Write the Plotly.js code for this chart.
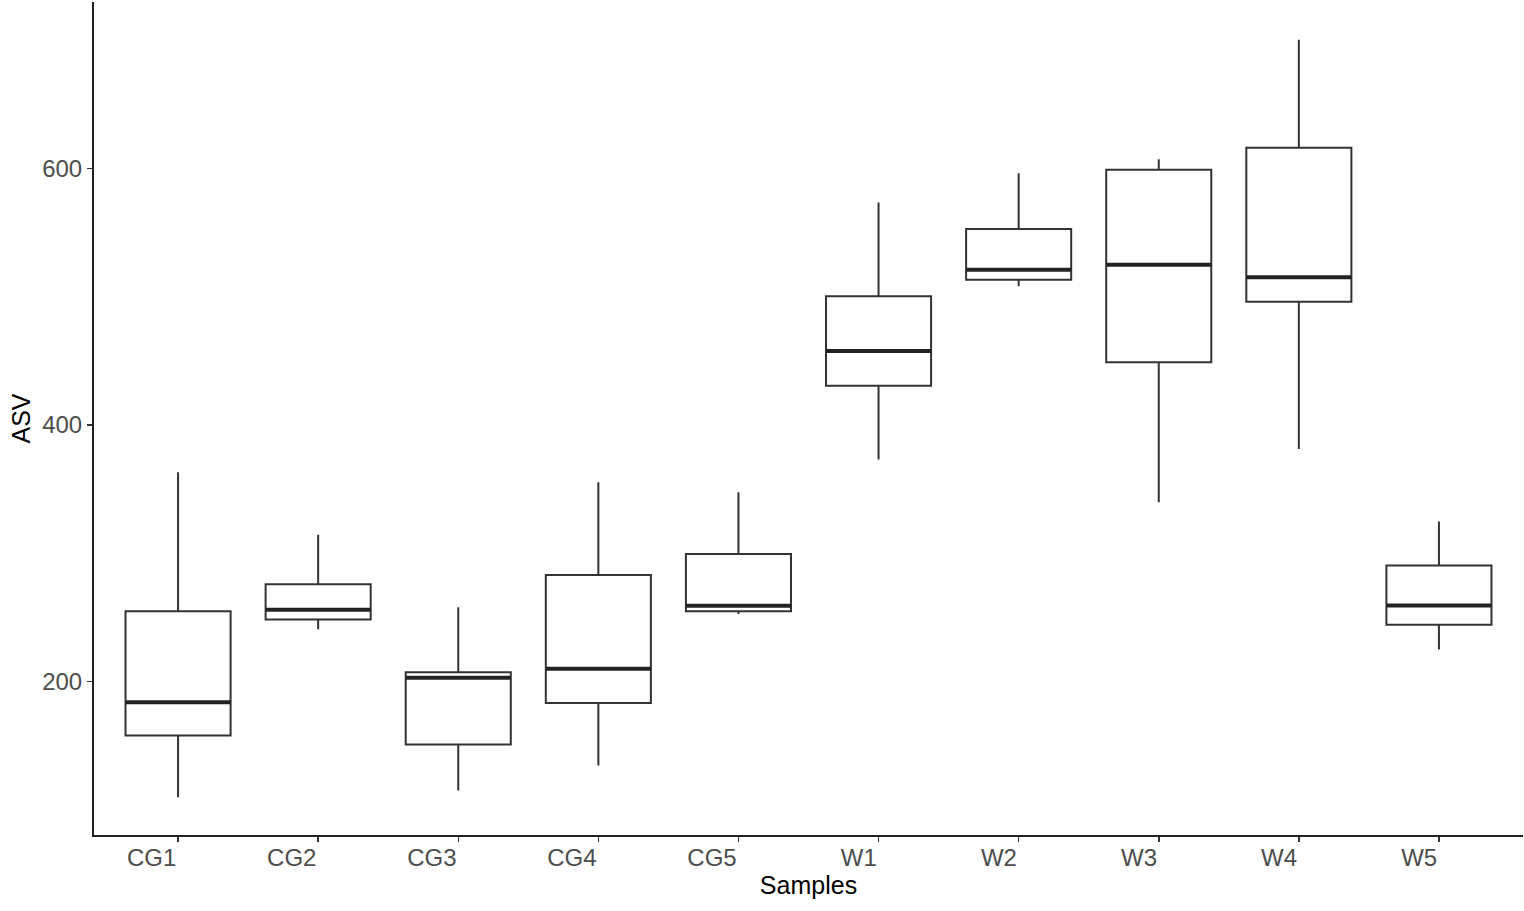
<!DOCTYPE html>
<html>
<head>
<meta charset="utf-8">
<script src="https://cdn.plot.ly/plotly-3.0.1.min.js"></script>
<style>
  html, body { margin: 0; padding: 0; background: #ffffff; }
  #chart { width: 1524px; height: 911px; }
</style>
</head>
<body>
<div id="chart"></div>
<script>
// ASV counts per sample: five-number summaries
const samples = ["CG1", "CG2", "CG3", "CG4", "CG5", "W1", "W2", "W3", "W4", "W5"];
const lowerWhisker = [109.9, 240.8, 115.1, 134.6, 252.7, 373.0, 508.1, 339.8, 381.3, 224.9];
const q1 = [157.9, 248.3, 150.9, 183.2, 254.8, 430.6, 513.2, 448.8, 496.1, 244.2];
const medians = [183.9, 255.9, 202.9, 209.9, 259.0, 457.7, 521.0, 524.9, 515.1, 259.2];
const q3 = [254.8, 275.9, 207.3, 283.1, 299.5, 500.3, 552.7, 598.9, 616.0, 290.4];
const upperWhisker = [363.1, 314.5, 258.0, 355.4, 347.6, 573.5, 596.3, 607.2, 700.2, 324.7];
const yTicks = [200, 400, 600];

const positions = samples.map((_, i) => i);
const boxWidth = 0.75;
const lineColor = "#333333";

const boxTrace = {
  type: "box",
  x: positions,
  lowerfence: lowerWhisker,
  q1: q1,
  median: medians,
  q3: q3,
  upperfence: upperWhisker,
  width: boxWidth,
  whiskerwidth: 0,
  boxpoints: false,
  fillcolor: "#ffffff",
  line: { color: lineColor, width: 2 },
  hoverinfo: "skip",
  showlegend: false
};

// heavier median bars drawn over each box
const medianX = [];
const medianY = [];
positions.forEach((p, i) => {
  medianX.push(p - boxWidth / 2, p + boxWidth / 2, null);
  medianY.push(medians[i], medians[i], null);
});
const medianTrace = {
  type: "scatter",
  mode: "lines",
  x: medianX,
  y: medianY,
  line: { color: "#222222", width: 4 },
  hoverinfo: "skip",
  showlegend: false
};

const tickFont = { family: "Liberation Sans, Arial, sans-serif", size: 24, color: "#4d4d4d" };
const titleFont = { family: "Liberation Sans, Arial, sans-serif", size: 25, color: "#000000" };

const layout = {
  width: 1524,
  height: 911,
  margin: { l: 94, r: 1, t: 2, b: 76 },
  paper_bgcolor: "#ffffff",
  plot_bgcolor: "#ffffff",
  showlegend: false,
  xaxis: {
    range: [-0.6, 9.6],
    tickmode: "array",
    tickvals: positions,
    ticktext: samples,
    ticklabelposition: "outside left",
    showgrid: false,
    zeroline: false,
    showline: true,
    linecolor: "#222222",
    linewidth: 2,
    ticks: "outside",
    ticklen: 5,
    tickwidth: 1.5,
    tickcolor: "#333333",
    tickfont: tickFont,
    title: { text: "Samples", font: titleFont, standoff: 4 }
  },
  yaxis: {
    range: [80.4, 729.7],
    tickmode: "array",
    tickvals: yTicks,
    ticktext: yTicks.map(String),
    showgrid: false,
    zeroline: false,
    showline: true,
    linecolor: "#222222",
    linewidth: 2,
    ticks: "outside",
    ticklen: 5,
    tickwidth: 1.5,
    tickcolor: "#333333",
    tickfont: tickFont,
    title: { text: "ASV", font: titleFont, standoff: 4 }
  }
};

Plotly.newPlot("chart", [boxTrace, medianTrace], layout, { displayModeBar: false, staticPlot: true });
</script>
</body>
</html>
